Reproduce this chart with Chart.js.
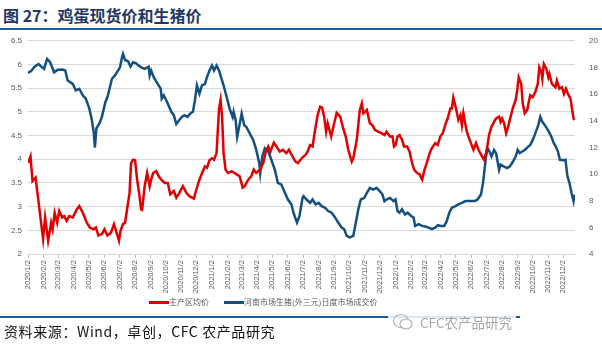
<!DOCTYPE html>
<html>
<head>
<meta charset="utf-8">
<script src="https://cdn.jsdelivr.net/npm/chart.js@4.4.0/dist/chart.umd.min.js"></script>
<style>
  body { margin: 0; width: 602px; height: 352px; background: #fff; position: relative; overflow: hidden; font-family: "Noto Sans CJK SC", sans-serif; }
  #title { position: absolute; left: 3px; top: 5px; font-size: 16px; font-weight: bold; color: #1F3864; line-height: 20px; }
  .rule { position: absolute; left: 0; height: 2px; background: #1F5C99; }
  #box { position: absolute; left: 0; top: 30px; width: 602px; height: 266px; }
  #legend { position: absolute; top: 295px; left: 0; width: 602px; height: 14px; font-size: 8px; color: #595959; }
  #legend .ln { position: absolute; top: 6px; width: 20px; height: 3px; }
  #legend .tx { position: absolute; top: 0; line-height: 14px; }
  #src { position: absolute; left: 4px; top: 322px; font-size: 14px; line-height: 18px; color: #111; letter-spacing: 0.6px; }
  #mark { position: absolute; left: 388px; top: 311px; height: 22px; display: flex; align-items: center; background: rgba(255,255,255,0.85); padding: 0 4px; }
  #mark span { font-size: 13.5px; color: #A6A6A6; margin-left: 6px; }
</style>
</head>
<body>
<div id="title">图 27：鸡蛋现货价和生猪价</div>
<div class="rule" style="top:28px;width:602px"></div>

<div id="box"><canvas id="chart"></canvas></div>

<div id="legend">
  <div class="ln" style="left:149px;background:#E00000"></div><div class="tx" style="left:169px">主产区均价</div>
  <div class="ln" style="left:224px;background:#13507F"></div><div class="tx" style="left:244px">河南市场生猪(外三元)日度市场成交价</div>
</div>

<div class="rule" style="top:316px;width:520px"></div>
<div id="mark">
  <svg width="22" height="20" viewBox="0 0 22 20"><ellipse cx="9" cy="9" rx="7.5" ry="6.5" fill="none" stroke="#B0B0B0" stroke-width="1.2"/><ellipse cx="14" cy="12" rx="6" ry="5" fill="#fff" stroke="#B0B0B0" stroke-width="1.2"/></svg>
  <span>CFC农产品研究</span>
</div>
<div id="src">资料来源：Wind，卓创，CFC 农产品研究</div>

<script>
// month ticks on the x axis
const tickLabels = [
  '2020/1/2','2020/2/2','2020/3/2','2020/4/2','2020/5/2','2020/6/2','2020/7/2','2020/8/2','2020/9/2','2020/10/2','2020/11/2','2020/12/2',
  '2021/1/2','2021/2/2','2021/3/2','2021/4/2','2021/5/2','2021/6/2','2021/7/2','2021/8/2','2021/9/2','2021/10/2','2021/11/2','2021/12/2',
  '2022/1/2','2022/2/2','2022/3/2','2022/4/2','2022/5/2','2022/6/2','2022/7/2','2022/8/2','2022/9/2','2022/10/2','2022/11/2','2022/12/2'
];

// 主产区均价 (left axis), x = days since 2020/1/2
const eggDay = [0,5,9,15,30,34,40,46,49,53,58,62,68,72,77,82,89,97,102,109,117,123,130,135,140,147,152,158,165,171,178,181,
  184,189,193,197,202,205,209,213,217,221,225,227,232,237,242,245,249,255,260,265,272,278,283,290,295,301,308,315,321,330,334,341,348,352,356,361,
  366,370,375,380,383,386,389,393,398,405,415,421,427,431,438,444,449,454,461,468,473,478,482,489,494,501,507,514,519,526,532,537,542,
  548,552,556,561,566,570,576,581,585,589,593,596,603,609,614,621,627,632,637,644,647,654,660,664,667,674,680,685,690,697,703,709,713,720,725,728,
  731,735,739,744,748,754,759,764,768,774,779,784,788,793,799,803,810,815,820,825,831,835,840,843,846,852,856,860,863,866,872,876,881,886,891,896,903,907,
  911,914,917,922,927,931,937,940,943,947,951,955,960,964,970,973,976,981,984,988,993,996,999,1004,1009,1014,1017,1021,1023,1026,1031,1035,1037,1042,
  1049,1052,1057,1062,1066,1070,1074,1079,1082,1085,1087];
const eggPrice = [3.92,4.06,3.54,3.61,2.32,2.77,2.28,2.66,2.52,2.87,2.66,2.91,2.77,2.80,2.70,2.80,2.77,2.94,3.01,2.87,2.66,2.56,2.52,2.56,2.39,2.42,2.52,2.39,2.45,2.63,2.39,2.28,
  2.49,2.63,2.66,2.94,3.29,3.92,3.99,3.98,3.57,3.29,2.94,2.93,3.43,3.71,3.43,3.57,3.71,3.75,3.64,3.57,3.50,3.50,3.26,3.33,3.19,3.29,3.43,3.29,3.22,3.17,3.33,3.57,3.75,3.85,3.82,3.98,
  4.02,3.99,4.13,5.07,5.25,4.90,4.13,3.78,3.71,3.75,3.68,3.64,3.40,3.43,3.57,3.64,3.78,3.71,3.78,3.92,4.16,4.27,4.16,4.35,4.27,4.16,4.20,4.13,4.20,4.06,3.95,3.92,3.99,
  4.06,4.09,4.16,4.30,4.27,4.55,4.93,5.11,5.09,4.90,4.58,4.76,4.48,4.76,4.98,4.90,4.65,4.48,4.20,3.95,4.02,4.41,5.04,5.18,4.97,5.04,4.76,4.72,4.62,4.58,4.55,4.51,4.58,4.48,4.48,4.27,
  4.30,4.48,4.51,4.41,4.27,4.27,4.16,3.92,3.78,3.71,3.68,3.57,3.75,3.92,4.13,4.23,4.34,4.30,4.48,4.55,4.76,4.87,5.07,5.07,5.30,5.04,4.83,4.93,4.72,4.97,4.62,4.48,4.34,4.20,4.34,4.20,4.06,3.99,
  4.13,4.30,4.51,4.69,4.79,4.86,4.90,4.79,4.86,4.76,4.55,4.69,4.90,5.07,5.25,5.45,5.73,5.59,5.18,4.97,5.04,5.21,5.35,5.31,5.42,5.59,5.94,5.84,5.70,6.01,5.91,5.73,5.80,5.59,
  5.52,5.66,5.49,5.52,5.38,5.49,5.38,5.28,5.07,4.86,4.83];

// 河南市场生猪(外三元)日度市场成交价 (right axis)
const hogDay = [0,3,6,13,21,28,32,38,44,52,59,69,74,79,89,95,102,109,115,122,127,131,133,136,142,147,154,158,163,167,173,183,
  187,189,193,199,204,209,215,220,225,232,240,242,245,250,258,264,266,270,278,285,290,295,301,306,311,317,323,328,332,336,341,346,352,356,361,
  366,370,375,380,385,389,396,401,407,409,413,416,420,425,430,434,441,448,454,460,462,466,471,478,484,491,497,504,511,517,524,528,535,540,546,
  548,554,561,566,572,578,584,591,597,604,611,617,624,629,634,640,647,652,657,662,669,674,680,687,693,700,705,709,713,720,727,
  731,735,739,744,750,755,762,767,770,777,784,790,797,803,810,815,821,828,833,838,843,850,856,863,870,876,883,889,894,901,905,908,
  911,914,918,922,927,931,937,940,946,953,958,963,970,974,978,983,988,995,999,1004,1009,1015,1019,1023,1028,1036,1041,1046,1050,1054,1058,
  1066,1069,1073,1077,1081,1085,1087];
const hogPrice = [17.57,17.67,17.72,18.06,18.26,18.01,17.89,18.64,18.39,17.64,17.82,17.84,17.77,17.02,16.77,16.28,16.40,15.91,15.66,14.91,14.05,13.05,11.99,13.43,13.80,14.29,15.41,15.78,16.53,17.15,17.40,18.01,
  18.76,19.01,18.56,18.46,18.06,18.39,18.31,18.14,18.01,17.89,18.06,17.40,17.77,17.27,16.77,16.40,15.66,15.91,15.29,14.67,14.42,13.75,14.05,14.29,14.42,14.29,14.54,14.67,15.53,16.65,16.03,16.65,16.77,17.27,17.77,
  18.14,17.77,18.14,17.77,17.15,16.65,15.66,14.91,14.29,14.67,14.05,12.80,13.55,14.54,13.67,13.55,13.05,12.56,11.81,10.82,10.07,11.32,11.94,11.69,11.07,10.32,9.33,9.21,8.59,8.09,7.72,7.10,6.35,6.85,8.21,
  8.34,8.09,7.84,8.09,7.72,7.84,7.59,7.47,7.22,7.10,6.73,6.36,5.98,5.86,5.36,5.24,5.36,6.35,7.35,8.09,8.21,8.59,8.96,8.83,8.96,8.71,8.46,7.97,8.09,8.21,7.97,
  8.09,7.22,7.10,7.35,6.97,7.10,6.85,6.73,6.11,6.24,6.11,6.06,5.98,5.86,5.98,6.16,6.11,6.11,6.48,7.10,7.47,7.59,7.72,7.84,7.97,7.97,7.97,7.97,8.09,8.46,9.33,10.32,
  11.32,11.94,11.69,11.32,11.81,11.57,10.32,10.70,10.57,10.45,10.57,10.82,11.32,11.81,11.57,11.69,11.81,12.06,12.19,12.56,13.05,13.67,14.29,13.92,13.67,13.18,12.80,12.30,12.06,11.69,11.07,
  11.03,11.07,9.83,9.33,8.59,7.97,8.46];

const DAY0 = Date.UTC(2020, 0, 2);
const tickDays = tickLabels.map(s => {
  const p = s.split('/').map(Number);
  return Math.round((Date.UTC(p[0], p[1] - 1, p[2]) - DAY0) / 86400000);
});
const toXY = (days, vals) => days.map((d, i) => ({ x: d, y: vals[i] }));

const tickFont = { family: 'Liberation Sans', size: 8 };

new Chart(document.getElementById('chart'), {
  type: 'line',
  data: {
    datasets: [
      {
        label: '主产区均价',
        data: toXY(eggDay, eggPrice),
        yAxisID: 'y',
        borderColor: '#E00000',
        borderWidth: 2.5,
        pointRadius: 0,
        tension: 0
      },
      {
        label: '河南市场生猪(外三元)日度市场成交价',
        data: toXY(hogDay, hogPrice),
        yAxisID: 'y1',
        borderColor: '#13507F',
        borderWidth: 2.5,
        pointRadius: 0,
        tension: 0
      }
    ]
  },
  options: {
    responsive: true,
    maintainAspectRatio: false,
    animation: false,
    layout: { padding: { top: 4, bottom: 2 } },
    plugins: {
      tooltip: { enabled: false },
      legend: { display: false }
    },
    scales: {
      x: {
        type: 'linear',
        min: 0,
        max: 1088,
        afterBuildTicks: s => { s.ticks = tickDays.map(v => ({ value: v })); },
        afterFit: s => { s.height = 40; },
        ticks: {
          autoSkip: false,
          minRotation: 90,
          maxRotation: 90,
          padding: 2,
          color: '#595959',
          font: { family: 'Liberation Sans', size: 7.5 },
          callback: v => tickLabels[tickDays.indexOf(v)]
        },
        grid: { drawOnChartArea: false, drawTicks: true, tickLength: 4, color: '#BFBFBF' },
        border: { color: '#D9D9D9' }
      },
      y: {
        position: 'left',
        min: 2,
        max: 6.5,
        afterFit: s => { s.width = 28; },
        ticks: { stepSize: 0.5, color: '#595959', font: tickFont, padding: 6, callback: v => String(v) },
        grid: { color: '#D9D9D9', drawTicks: false },
        border: { display: false }
      },
      y1: {
        position: 'right',
        min: 4,
        max: 20,
        afterFit: s => { s.width = 27; },
        ticks: { stepSize: 2, color: '#595959', font: tickFont, padding: 6 },
        grid: { display: false },
        border: { display: false }
      }
    }
  }
});
</script>
</body>
</html>
